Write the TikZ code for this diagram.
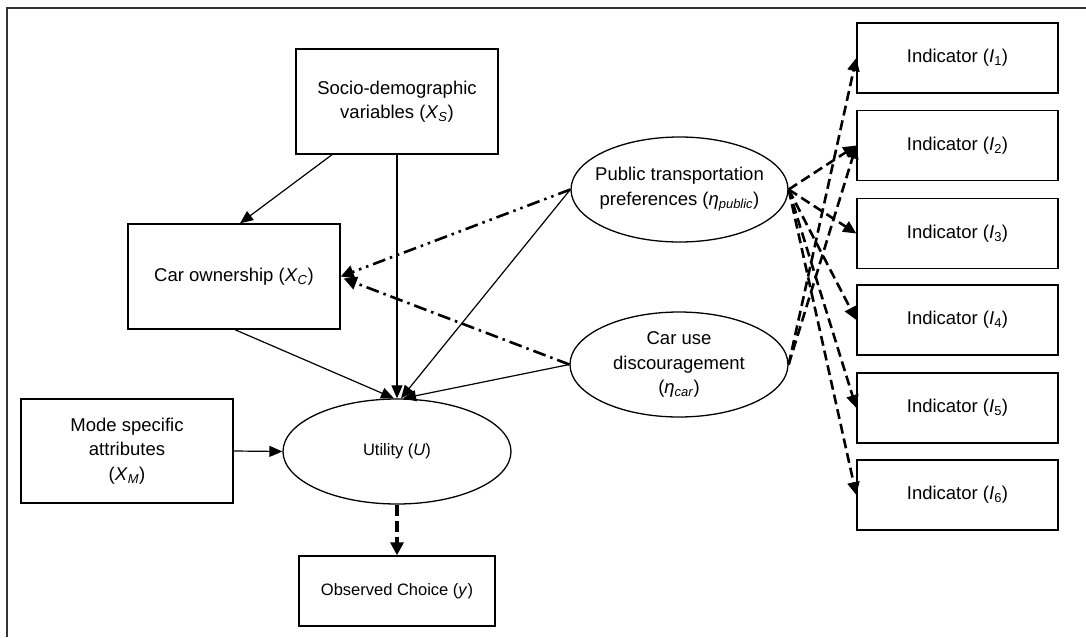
\documentclass[tikz,border=0pt]{standalone}
\usepackage{fontspec}
\setmainfont{Liberation Sans}
\usetikzlibrary{arrows.meta,shapes.geometric,calc}
\newcommand{\bigtxt}{\fontsize{18.5}{24.5}\selectfont}
\newcommand{\smalltxt}{\fontsize{16.5}{20}\selectfont}
\begin{document}
\begin{tikzpicture}[x=1pt,y=-1pt,
  box/.style={draw, line width=1.4pt, rectangle, inner sep=0pt, align=center, font=\bigtxt},
  oval/.style={draw, ellipse, line width=1.3pt, inner sep=0pt},
  lbl/.style={align=center, font=\bigtxt, inner sep=0pt},
  ind/.style={box, minimum width=201pt, minimum height=70pt},
  link/.style={line width=1.2pt, -{Triangle[length=13pt,width=11pt]}},
  meas/.style={line width=2.6pt, dash pattern=on 10pt off 5pt, -{Triangle[length=13pt,width=12pt]}},
  choice/.style={line width=3.2pt, dash pattern=on 11pt off 5pt, -{Triangle[length=13pt,width=13pt]}},
  dashdotdot/.style={line width=2.6pt, dash pattern=on 13pt off 5pt on 2.5pt off 5pt on 2.5pt off 5pt, -{Triangle[length=13pt,width=13pt]}},
  dashdot/.style={line width=2.6pt, dash pattern=on 13pt off 5pt on 2.5pt off 5pt, -{Triangle[length=13pt,width=13pt]}},
  frame/.style={line width=1.5pt, black!80}
]
\useasboundingbox (0,0) rectangle (1086,637);
\coordinate (fc) at (7,8);
\coordinate (fr) at (1086,8);
\coordinate (fb) at (7,637);
\draw[frame] (fb) -- (fc) -- (fr);

% boxes
\node[box, minimum width=202pt, minimum height=105pt] (socio) at (397,101.5)
  {Socio-demographic\\variables (\textit{X}\textsubscript{\textit{S}})};
\node[box, minimum width=212pt, minimum height=105pt] (carown) at (234,276.5)
  {Car ownership (\textit{X}\textsubscript{\textit{C}})};
\node[box, minimum width=212pt, minimum height=104pt] (mode) at (127,451)
  {Mode specific\\attributes\\(\textit{X}\textsubscript{\textit{M}})};
\node[box, minimum width=196pt, minimum height=70pt, font=\smalltxt] (obs) at (397,591)
  {Observed Choice (\textit{y})};

% ellipses
\node[oval, minimum width=228pt, minimum height=105pt] (util) at (397,451.5) {};
\node[lbl, font=\smalltxt] (utilt) at (util) {Utility (\textit{U})};
\node[oval, minimum width=217pt, minimum height=105pt] (pub) at (679.5,189.5) {};
\node[lbl] (pubt) at (pub) {Public transportation\\preferences (\textit{η}\textsubscript{\textit{public}})};
\node[oval, minimum width=218pt, minimum height=105pt] (car) at (679,364.5) {};
\node[lbl] (cart) at (car) {Car use\\discouragement\\(\textit{η}\textsubscript{\textit{car}})};

% indicators
\node[ind] (i1) at (957.5,58) {Indicator (\textit{I}\textsubscript{1})};
\node[ind] (i2) at (957.5,145.5) {Indicator (\textit{I}\textsubscript{2})};
\node[ind] (i3) at (957.5,233.5) {Indicator (\textit{I}\textsubscript{3})};
\node[ind] (i4) at (957.5,320) {Indicator (\textit{I}\textsubscript{4})};
\node[ind] (i5) at (957.5,408) {Indicator (\textit{I}\textsubscript{5})};
\node[ind] (i6) at (957.5,495) {Indicator (\textit{I}\textsubscript{6})};

% structural links
\draw[link] ($(socio.south)+(-65,0)$) -- ($(carown.north)+(6,0)$);
\draw[link] (socio.south) -- (util.north);
\draw[link] ($(carown.south)+(1,0)$) -- ($(util.north)+(-3,0)$);
\draw[link] (pub.west) -- ($(util.north)+(4,0)$);
\draw[link] (car.west) -- ($(util.north)+(6,0)$);
\draw[link] (mode.east) -- (util.west);
\draw[choice] (util.south) -- (obs.north);
\draw[dashdotdot] (pub.west) -- (carown.east);
\draw[dashdot] (car.west) -- ($(carown.east)+(3,2)$);

% measurement links
\foreach \t in {i2,i3,i4,i5,i6}
  \draw[meas] (pub.east) -- (\t.west);
\foreach \t in {i1,i2}
  \draw[meas] (car.east) -- (\t.west);
\end{tikzpicture}
\end{document}
